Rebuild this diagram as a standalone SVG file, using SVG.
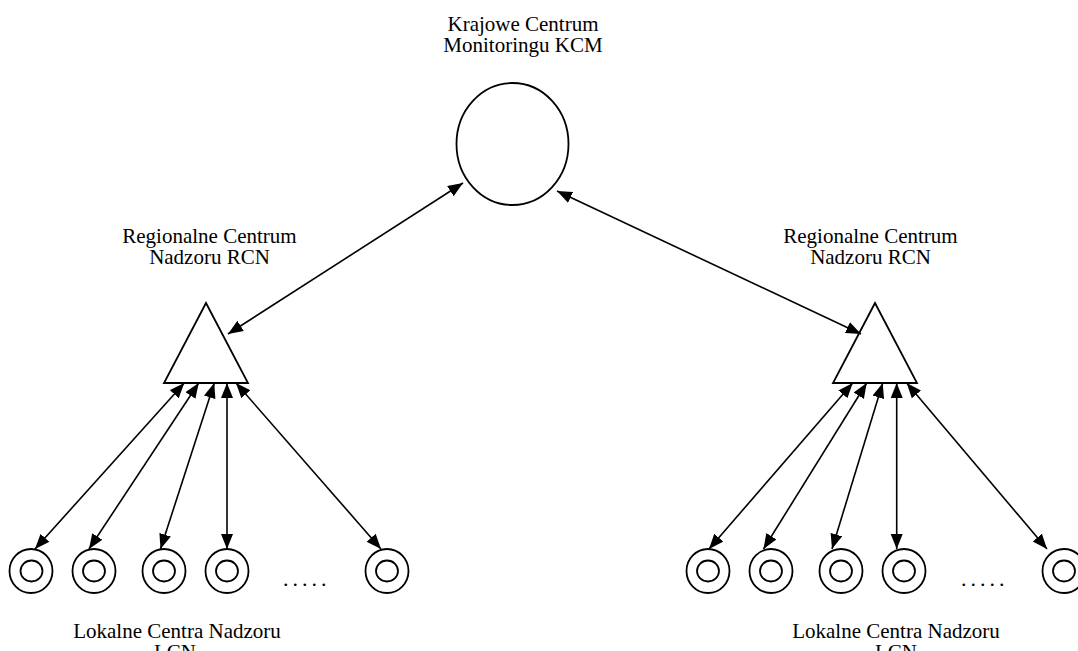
<svg xmlns="http://www.w3.org/2000/svg" width="1078" height="651" viewBox="0 0 1078 651">
<style>
  .lbl { font-family: "Liberation Serif", "Times New Roman", serif; font-size: 21px; fill: #000; text-anchor: middle; }
  .dots { font-family: "Liberation Serif", "Times New Roman", serif; font-size: 22px; fill: #000; letter-spacing: 4px; }
  .shape { fill: #fff; stroke: #000; stroke-width: 1.8; }
  .ring { fill: none; stroke: #000; stroke-width: 1.8; }
  .conn line { stroke: #000; stroke-width: 1.6; marker-start: url(#ah); marker-end: url(#ah); }
</style>
<defs>
  <marker id="ah" markerUnits="userSpaceOnUse" markerWidth="16" markerHeight="13" refX="15" refY="6" orient="auto-start-reverse" viewBox="0 0 16 13">
    <path d="M0,0 L15,6 L0,12 z" fill="#000"/>
  </marker>
</defs>
<rect width="1078" height="651" fill="#fff"/>

<g id="kcm">
  <ellipse class="shape" cx="512.5" cy="144" rx="56" ry="61"/>
  <text class="lbl" x="523" y="31">Krajowe Centrum</text>
  <text class="lbl" x="523" y="52">Monitoringu KCM</text>
</g>

<g id="rcn-left">
  <polygon class="shape" points="206,303 164,383 248,383"/>
  <text class="lbl" x="209.5" y="243">Regionalne Centrum</text>
  <text class="lbl" x="209.5" y="264">Nadzoru RCN</text>
</g>

<g id="rcn-right">
  <polygon class="shape" points="875,303 833,383 917,383"/>
  <text class="lbl" x="870.5" y="243">Regionalne Centrum</text>
  <text class="lbl" x="870.5" y="264">Nadzoru RCN</text>
</g>

<g id="lcn-left">
  <g id="lcn-l1"><ellipse class="ring" cx="31" cy="571" rx="21.5" ry="22"/><ellipse class="ring" cx="31.5" cy="571" rx="11" ry="10.5"/></g>
  <g id="lcn-l2"><ellipse class="ring" cx="94" cy="571" rx="21.5" ry="22"/><ellipse class="ring" cx="94" cy="571" rx="11" ry="10.5"/></g>
  <g id="lcn-l3"><ellipse class="ring" cx="164" cy="571" rx="21.5" ry="22"/><ellipse class="ring" cx="164" cy="571" rx="11" ry="10.5"/></g>
  <g id="lcn-l4"><ellipse class="ring" cx="227" cy="571" rx="21.5" ry="22"/><ellipse class="ring" cx="227" cy="571" rx="11" ry="10.5"/></g>
  <g id="lcn-l5"><ellipse class="ring" cx="387" cy="571" rx="21.5" ry="22"/><ellipse class="ring" cx="387" cy="571" rx="11" ry="10.5"/></g>
  <text class="dots" x="283" y="586">.....</text>
  <text class="lbl" x="177" y="638">Lokalne Centra Nadzoru</text>
  <text class="lbl" x="175" y="659">LCN</text>
</g>

<g id="lcn-right">
  <g id="lcn-r1"><ellipse class="ring" cx="708" cy="571" rx="21.5" ry="22"/><ellipse class="ring" cx="708" cy="571" rx="11" ry="10.5"/></g>
  <g id="lcn-r2"><ellipse class="ring" cx="771" cy="571" rx="21.5" ry="22"/><ellipse class="ring" cx="771" cy="571" rx="11" ry="10.5"/></g>
  <g id="lcn-r3"><ellipse class="ring" cx="841" cy="571" rx="21.5" ry="22"/><ellipse class="ring" cx="841" cy="571" rx="11" ry="10.5"/></g>
  <g id="lcn-r4"><ellipse class="ring" cx="904" cy="571" rx="21.5" ry="22"/><ellipse class="ring" cx="904" cy="571" rx="11" ry="10.5"/></g>
  <g id="lcn-r5"><ellipse class="ring" cx="1064" cy="571" rx="21.5" ry="22"/><ellipse class="ring" cx="1064" cy="571" rx="11" ry="10.5"/></g>
  <text class="dots" x="961" y="586">.....</text>
  <text class="lbl" x="896" y="638">Lokalne Centra Nadzoru</text>
  <text class="lbl" x="896" y="659">LCN</text>
</g>

<g id="connectors" class="conn">
  <line x1="463" y1="183" x2="228" y2="334"/>
  <line x1="557" y1="191" x2="861" y2="334"/>
  <line x1="184.3" y1="383" x2="35" y2="549"/>
  <line x1="198.7" y1="383" x2="89" y2="549"/>
  <line x1="214.3" y1="383" x2="160.5" y2="549"/>
  <line x1="227" y1="383" x2="227" y2="549"/>
  <line x1="236" y1="383" x2="381" y2="549"/>
  <line x1="852.7" y1="383" x2="709" y2="549"/>
  <line x1="866.7" y1="383" x2="763.5" y2="549"/>
  <line x1="882.7" y1="383" x2="832" y2="549"/>
  <line x1="896.7" y1="383" x2="896.7" y2="549"/>
  <line x1="906.7" y1="383" x2="1047" y2="549"/>
</g>
</svg>
